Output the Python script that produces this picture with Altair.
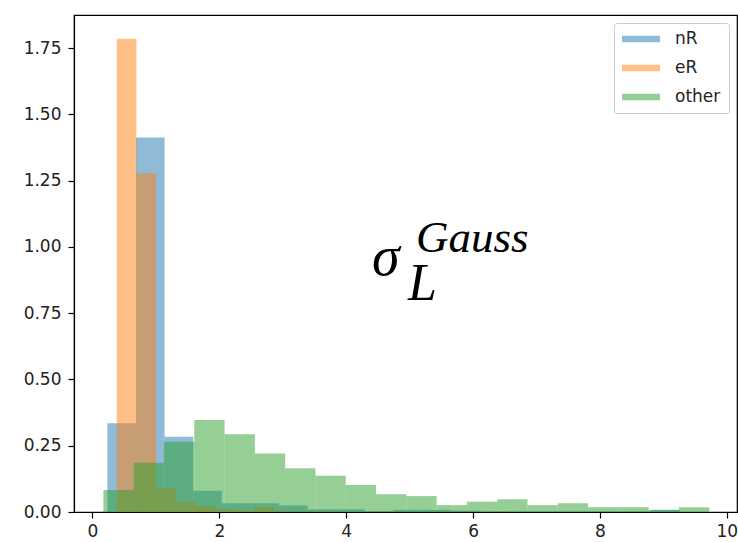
import altair as alt
import pandas as pd

# ---- data (density histograms, 20 bins each) ----
series_names = ["nR", "eR", "other"]
series_colors = ["#1f77b4", "#ff7f0e", "#2ca02c"]

nR_bin_start, nR_bin_width = 0.236, 0.451
nR_density = [0.335, 1.413, 0.284, 0.080, 0.033, 0.033, 0.025, 0.010, 0.010, 0.003,
              0.008, 0.008, 0.005, 0.002, 0.002, 0.002, 0.002, 0.002, 0.002, 0.008]

eR_bin_start, eR_bin_width = 0.384, 0.310
eR_density = [1.785, 1.278, 0.089, 0.039, 0.023, 0.011, 0.006, 0.018, 0.003, 0.000,
              0.002, 0.000, 0.000, 0.002, 0.000, 0.000, 0.000, 0.000, 0.000, 0.002]

other_bin_start, other_bin_width = 0.173, 0.4775
other_density = [0.083, 0.186, 0.265, 0.347, 0.293, 0.221, 0.165, 0.137, 0.102, 0.067,
                 0.060, 0.026, 0.039, 0.048, 0.026, 0.033, 0.018, 0.018, 0.008, 0.018]

x_ticks = [0, 2, 4, 6, 8, 10]
y_ticks = [0.0, 0.25, 0.5, 0.75, 1.0, 1.25, 1.5, 1.75]

rows = []
for name, start, width, dens in [
    ("nR", nR_bin_start, nR_bin_width, nR_density),
    ("eR", eR_bin_start, eR_bin_width, eR_density),
    ("other", other_bin_start, other_bin_width, other_density),
]:
    for k, d in enumerate(dens):
        rows.append({"series": name, "x0": start + k * width,
                     "x1": start + (k + 1) * width, "density": d, "base": 0.0})
df = pd.DataFrame(rows)

W, H = 663, 497

bars = alt.Chart(df).mark_rect(opacity=0.5, strokeWidth=0).encode(
    x=alt.X("x0:Q", scale=alt.Scale(domain=[-0.29, 10.16], nice=False, zero=False),
            axis=alt.Axis(values=x_ticks, format="d", title=None, grid=False)),
    x2="x1:Q",
    y=alt.Y("density:Q", scale=alt.Scale(domain=[0, 1.875], nice=False),
            axis=alt.Axis(values=y_ticks, format=".2f", title=None, grid=False)),
    y2="base:Q",
    color=alt.Color("series:N",
                    scale=alt.Scale(domain=series_names, range=series_colors),
                    legend=alt.Legend(title=None, orient="none", legendX=540, legendY=8,
                                      symbolType="M-1,-0.171L1,-0.171L1,0.171L-1,0.171Z",
                                      symbolSize=1444, symbolOpacity=0.5,
                                      symbolStrokeWidth=0, clipHeight=16,
                                      rowPadding=12, labelOffset=15, padding=8,
                                      labelFont="DejaVu Sans", labelFontSize=17,
                                      labelColor="#222222",
                                      strokeColor="#cccccc", fillColor="white",
                                      cornerRadius=3)),
)

font_serif = "Liberation Serif"
sigma = alt.Chart(pd.DataFrame({"t": ["σ"]})).mark_text(
    font=font_serif, fontStyle="italic", fontSize=56, align="left", baseline="alphabetic",
    color="black").encode(text="t:N", x=alt.value(298), y=alt.value(260))
sub = alt.Chart(pd.DataFrame({"t": ["L"]})).mark_text(
    font=font_serif, fontStyle="italic", fontSize=52, align="left", baseline="alphabetic",
    color="black").encode(text="t:N", x=alt.value(334), y=alt.value(285))
sup = alt.Chart(pd.DataFrame({"t": ["Gauss"]})).mark_text(
    font=font_serif, fontStyle="italic", fontSize=45, align="left", baseline="alphabetic",
    color="black").encode(text="t:N", x=alt.value(342), y=alt.value(237))

chart = alt.layer(bars, sigma, sub, sup).properties(
    width=W, height=H,
    autosize=alt.AutoSizeParams(type="none"),
    padding={"left": 74, "top": 15, "right": 1, "bottom": 30},
).configure_view(stroke="black", strokeWidth=1.2).configure_axis(
    labelFont="DejaVu Sans", labelFontSize=17, labelColor="#222222",
    tickColor="black", tickSize=6, tickWidth=1.2,
    domainColor="black", domainWidth=1.2, labelPadding=5,
).configure_axisY(labelPadding=7)

chart.save("out.html", embed_options={"renderer": "svg", "actions": False})
